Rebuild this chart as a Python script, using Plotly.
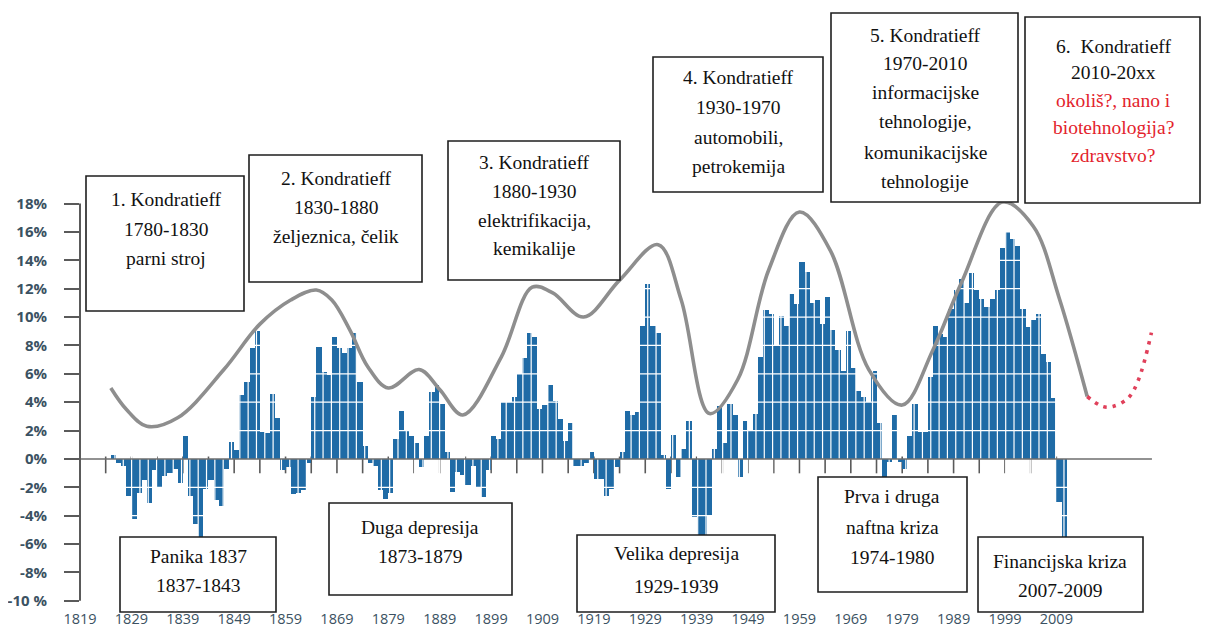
import plotly.graph_objects as go

# ---------------- data ----------------
years = list(range(1825, 2011))
returns = [
    0.3, -0.3, -0.5, -2.6, -4.2, -2.4, -1.5, -3.1, -0.8, -2.0,      # 1825-1834
    -1.2, -1.0, -0.7, -1.7, 1.6, -2.6, -4.6, -6.5, -2.1, -1.5,      # 1835-1844
    -2.9, -3.3, -0.7, 1.2, 0.6, 4.5, 5.4, 7.8, 9.0, 1.9,            # 1845-1854
    1.8, 4.6, 2.9, -0.8, -0.6, -2.5, -2.4, -2.2, -0.3, 4.4,         # 1855-1864
    7.9, 6.1, 5.9, 8.6, 7.8, 7.5, 7.8, 8.9, 5.4, 0.9,               # 1865-1874
    -0.3, -0.5, -2.2, -2.8, -2.4, 1.4, 3.4, 2.0, 1.6, 1.1,          # 1875-1884
    -0.6, 1.6, 4.7, 5.2, 3.9, 0.5, -2.3, -0.9, -1.1, -1.8,          # 1885-1894
    -0.5, -2.0, -2.7, -0.8, 1.6, 1.4, 4.0, 4.0, 4.4, 6.0,           # 1895-1904
    7.1, 8.9, 8.6, 3.5, 3.8, 5.2, 4.1, 2.8, 1.3, 2.5,               # 1905-1914
    -0.5, -0.5, -0.3, 0.5, -1.4, -1.4, -2.6, -2.1, -0.6, 0.5,       # 1915-1924
    3.4, 3.1, 3.3, 9.4, 12.3, 9.4, 8.9, 0.3, -2.1, 1.7,             # 1925-1934
    -1.3, 0.7, 2.7, -4.1, -6.2, -6.2, -4.0, 0.7, 3.7, 1.1,          # 1935-1944
    3.9, 3.1, -1.3, 2.7, 2.0, 3.2, 7.2, 10.5, 10.2, 8.0,            # 1945-1954
    10.1, 9.4, 11.6, 10.9, 13.9, 13.2, 11.0, 11.2, 9.5, 11.4,       # 1955-1964
    9.1, 7.7, 6.2, 9.0, 6.4, 4.8, 4.4, 4.0, 6.2, 2.5,               # 1965-1974
    -1.3, -0.2, 3.1, -0.2, -0.7, 1.6, 3.9, 1.9, 1.9, 5.8,           # 1975-1984
    9.4, 8.8, 8.6, 10.6, 11.9, 12.7, 11.0, 13.1, 11.9, 11.3,        # 1985-1994
    10.7, 11.3, 11.9, 14.9, 16.0, 15.5, 15.0, 10.6, 9.3, 9.8,       # 1995-2004
    10.2, 7.4, 6.8, 4.3, -3.0, -6.0,                                # 2005-2010
]

wave_years = [1825, 1828, 1832, 1838, 1847, 1854, 1860, 1865, 1868, 1871.5,
              1875, 1879, 1885, 1889, 1893.5, 1901, 1907, 1911, 1917, 1924,
              1931.5, 1936, 1941.5, 1947, 1953, 1959, 1965, 1972.5, 1979, 1985,
              1990.5, 1998.5, 2004.5, 2009.5, 2015]
wave_values = [5.0, 3.5, 2.3, 2.9, 6.3, 9.5, 11.2, 11.9, 11.2, 9.1,
               6.5, 5.0, 6.3, 4.9, 3.1, 7.2, 12.1, 11.7, 10.0, 12.6,
               15.1, 11.2, 3.2, 5.6, 13.3, 17.4, 14.7, 6.3, 3.8, 7.7,
               12.4, 18.1, 16.4, 11.4, 4.4]

forecast_years = [2015, 2018, 2020, 2023, 2025, 2027.5]
forecast_values = [4.4, 3.7, 3.7, 4.3, 5.6, 8.9]

x_label_years = list(range(1819, 2010, 10))
x_tick_years = list(range(1824, 2010, 5))
y_tick_values = list(range(-10, 19, 2))
y_tick_text = [("-10 %" if v == -10 else f"{v}%") for v in y_tick_values]
grid_levels = [v for v in y_tick_values if v != 0]

X_RANGE = [1819, 2028]
Y_RANGE = [-10.15, 18.6]
VGRID_STEP = 1.62  # spacing of the white vertical hatch over the bars (years)

# ---------------- layout geometry ----------------
# the page body has an 8px margin, so the figure starts at (8, 8) in the window
OFF = 8
W, H = 1209 - OFF, 630 - OFF
ML, MR, MT, MB = 80 - OFF, 55, 195 - OFF, 27
PW = W - ML - MR
PH = H - MT - MB


def px(x):
    """window pixel x -> paper fraction"""
    return (x - OFF - ML) / PW


def py(y):
    """window pixel y -> paper fraction"""
    return (H - MB - (y - OFF)) / PH


BAR_BLUE = "#1f6ba6"
AXIS_GRAY = "#5a5a5a"
LABEL_COLOR = "#3b5262"
SERIF = "Liberation Serif"

fig = go.Figure()

# tick marks on the zero line (base layer, under the bars)
fig.add_trace(go.Scatter(
    x=x_tick_years, y=[-0.42] * len(x_tick_years), mode="markers",
    marker=dict(symbol="line-ns", size=12, color=AXIS_GRAY,
                line=dict(width=1.6, color=AXIS_GRAY)),
    hoverinfo="skip", xaxis="x", yaxis="y"))

# bars
fig.add_trace(go.Bar(
    x=years, y=returns, width=1, offset=0,
    marker=dict(color=BAR_BLUE, line=dict(width=0)),
    xaxis="x", yaxis="y2"))

# white hatch grid drawn over the bars
gx, gy = [], []
for lv in grid_levels:
    gx += [X_RANGE[0] + 0.4, X_RANGE[1] - 0.4, None]
    gy += [lv, lv, None]
n_v = int((years[-1] + 1 - years[0]) / VGRID_STEP) + 1
for i in range(n_v):
    xv = years[0] + 0.8 + i * VGRID_STEP
    gx += [xv, xv, None]
    gy += [Y_RANGE[0], Y_RANGE[1], None]
fig.add_trace(go.Scatter(x=gx, y=gy, mode="lines",
                         line=dict(color="white", width=1.2),
                         hoverinfo="skip", xaxis="x", yaxis="y2"))

# zero line
fig.add_trace(go.Scatter(x=[1819.2, 2027.6], y=[0, 0], mode="lines",
                         line=dict(color="#6e6e6e", width=1.6),
                         hoverinfo="skip", xaxis="x", yaxis="y3"))

# Kondratieff wave
fig.add_trace(go.Scatter(x=wave_years, y=wave_values, mode="lines",
                         line=dict(color="#8e8e8e", width=3.6, shape="spline", smoothing=1.0),
                         hoverinfo="skip", xaxis="x", yaxis="y3"))

# forecast (red dotted)
fig.add_trace(go.Scatter(x=forecast_years, y=forecast_values, mode="lines",
                         line=dict(color="#e0405a", width=3.6, shape="spline",
                                   dash="3.5px,6px"),
                         hoverinfo="skip", xaxis="x", yaxis="y3"))

fig.update_layout(
    template="none",
    width=W, height=H,
    margin=dict(l=ML, r=MR, t=MT, b=MB, pad=0, autoexpand=False),
    paper_bgcolor="white", plot_bgcolor="white",
    showlegend=False, bargap=0,
    xaxis=dict(range=X_RANGE, tickmode="array", tickvals=x_label_years,
               ticktext=[str(y) for y in x_label_years], ticks="",
               showgrid=False, zeroline=False, showline=False, automargin=False,
               tickfont=dict(family="Open Sans", size=14.5, color=LABEL_COLOR),
               ticklabelstandoff=5),
    yaxis=dict(range=Y_RANGE, tickmode="array", tickvals=y_tick_values,
               ticktext=y_tick_text, ticks="outside", ticklen=15, tickwidth=2,
               tickcolor=AXIS_GRAY, showgrid=False, zeroline=False, showline=False,
               automargin=False,
               tickfont=dict(family="Open Sans", size=15, color=LABEL_COLOR, weight=700),
               ticklabelstandoff=14),
    yaxis2=dict(range=Y_RANGE, overlaying="y", visible=False),
    yaxis3=dict(range=Y_RANGE, overlaying="y", visible=False),
)

# y axis line from -10% to 18%
shapes = [dict(type="line", xref="paper", yref="y", x0=0, x1=0, y0=-10, y1=18,
               line=dict(color=AXIS_GRAY, width=2))]

# ---------------- annotation boxes (window pixel positions) ----------------
BLACK = "#111111"
RED = "#e3232c"
boxes = [
    (86, 176, 244, 311, 166, [("1. Kondratieff", 200, BLACK), ("1780-1830", 229, BLACK),
                              ("parni stroj", 258, BLACK)]),
    (249, 155, 422, 282, 336, [("2. Kondratieff", 179, BLACK), ("1830-1880", 207, BLACK),
                               ("željeznica, čelik", 236, BLACK)]),
    (448, 141, 620, 280, 534, [("3. Kondratieff", 162, BLACK), ("1880-1930", 191, BLACK),
                               ("elektrifikacija,", 220, BLACK), ("kemikalije", 248, BLACK)]),
    (653, 57, 823, 192, 738, [("4. Kondratieff", 78, BLACK), ("1930-1970", 107, BLACK),
                              ("automobili,", 137, BLACK), ("petrokemija", 166, BLACK)]),
    (831, 13, 1018, 202, 925, [("5. Kondratieff", 35, BLACK), ("1970-2010", 63, BLACK),
                               ("informacijske", 92, BLACK), ("tehnologije,", 122, BLACK),
                               ("komunikacijske", 153, BLACK), ("tehnologije", 182, BLACK)]),
    (1025, 17, 1200, 203, 1113, [("6.  Kondratieff", 46, BLACK), ("2010-20xx", 73, BLACK),
                                 ("okoliš?, nano i", 101, RED), ("biotehnologija?", 128, RED),
                                 ("zdravstvo?", 156, RED)]),
    (120, 537, 276, 612, 198, [("Panika 1837", 556, BLACK), ("1837-1843", 585, BLACK)]),
    (329, 503, 512, 595, 420, [("Duga depresija", 527, BLACK), ("1873-1879", 556, BLACK)]),
    (577, 535, 775, 612, 676, [("Velika depresija", 553, BLACK), ("1929-1939", 586, BLACK)]),
    (818, 477, 967, 592, 892, [("Prva i druga", 496, BLACK), ("naftna kriza", 527, BLACK),
                               ("1974-1980", 557, BLACK)]),
    (978, 537, 1143, 612, 1060, [("Financijska kriza", 561, BLACK), ("2007-2009", 590, BLACK)]),
]

annotations = []
for x0, y0, x1, y1, cx, lines in boxes:
    shapes.append(dict(type="rect", xref="paper", yref="paper",
                       x0=px(x0), x1=px(x1), y0=py(y1), y1=py(y0),
                       line=dict(color="#1e1e1e", width=1.6), fillcolor="white",
                       layer="above"))
    for text, ly, col in lines:
        annotations.append(dict(text=text, x=px(cx), y=py(ly), xref="paper", yref="paper",
                                xanchor="center", yanchor="middle", showarrow=False,
                                font=dict(family=SERIF, size=19.5, color=col)))

fig.update_layout(shapes=shapes, annotations=annotations)

fig.write_html("out.html")
